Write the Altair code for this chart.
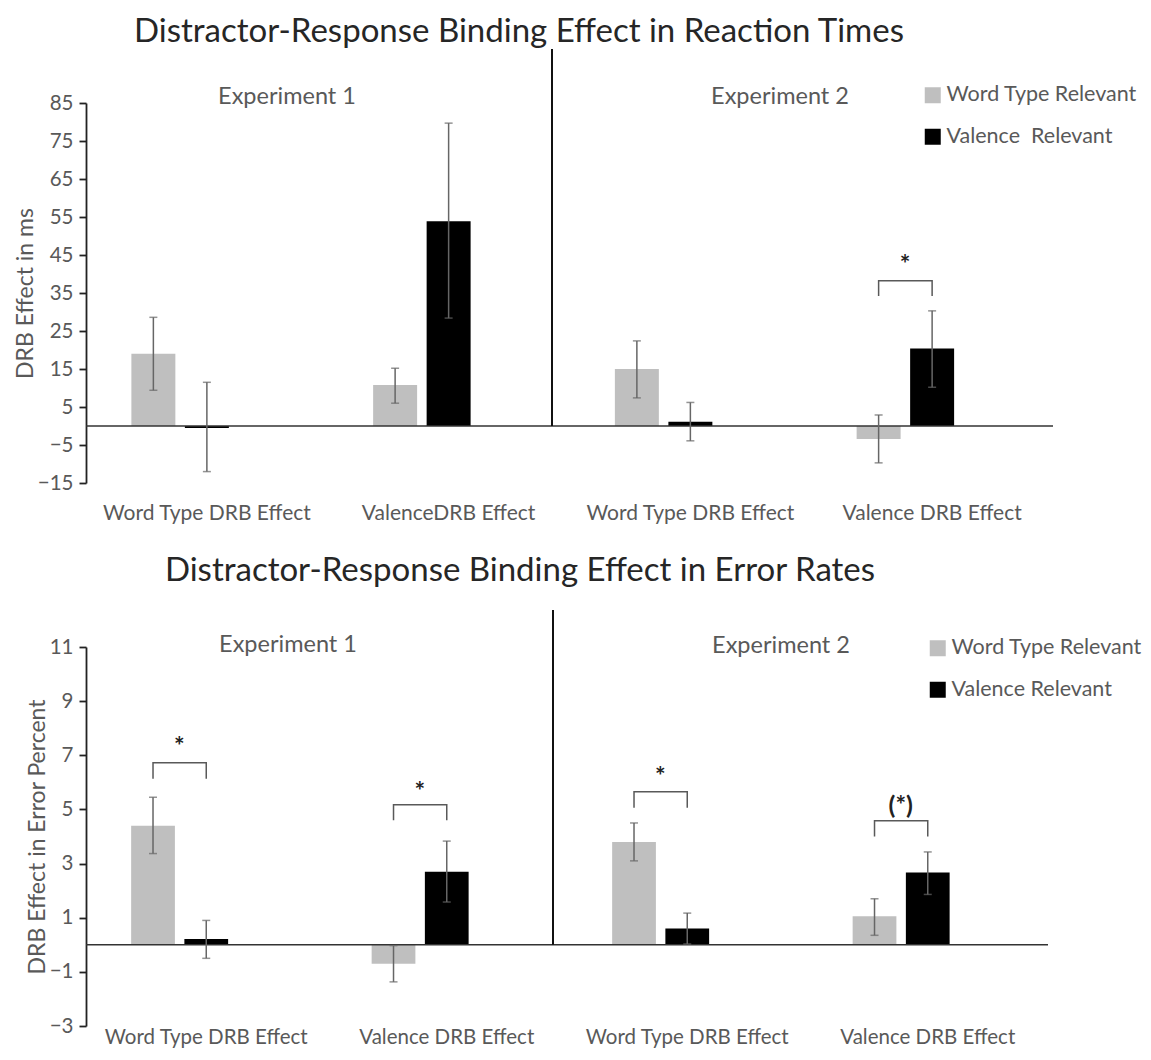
import altair as alt
import pandas as pd

FONT = "Lato"
TXT = "#595959"

series = ["Word Type Relevant", "Valence Relevant"]

# ---- Reaction times panel ----
rt_cats = ["E1|Word Type DRB Effect", "E1|ValenceDRB Effect",
           "E2|Word Type DRB Effect", "E2|Valence DRB Effect"]
rt_wt_mean = [19.0, 10.8, 15.0, -3.4]
rt_wt_lo = [9.4, 6.0, 7.4, -9.7]
rt_wt_hi = [28.6, 15.2, 22.4, 2.9]
rt_val_mean = [-0.5, 53.9, 1.1, 20.4]
rt_val_lo = [-12.0, 28.4, -3.9, 10.2]
rt_val_hi = [11.5, 79.7, 6.2, 30.3]
rt_sig_cat = ["E2|Valence DRB Effect"]
rt_sig_top = [38.2]
rt_sig_leg = [34.2]
rt_sig_label = ["*"]
rt_sig_label_y = [42.3]
rt_ticks = [-15, -5, 5, 15, 25, 35, 45, 55, 65, 75, 85]

# ---- Error rates panel ----
er_cats = ["E1|Word Type DRB Effect", "E1|Valence DRB Effect",
           "E2|Word Type DRB Effect", "E2|Valence DRB Effect"]
er_wt_mean = [4.4, -0.7, 3.8, 1.05]
er_wt_lo = [3.37, -1.37, 3.1, 0.35]
er_wt_hi = [5.45, -0.03, 4.5, 1.7]
er_val_mean = [0.21, 2.7, 0.6, 2.67]
er_val_lo = [-0.5, 1.58, 0.03, 1.86]
er_val_hi = [0.9, 3.83, 1.17, 3.43]
er_sig_cat = er_cats
er_sig_top = [6.72, 5.17, 5.65, 4.58]
er_sig_leg = [6.13, 4.6, 5.06, 4.0]
er_sig_label = ["*", "*", "*", "(*)"]
er_sig_label_y = [7.3, 5.65, 6.2, 5.13]
er_ticks = [-3, -1, 1, 3, 5, 7, 9, 11]


def panel(cats, wt_m, wt_lo, wt_hi, val_m, val_lo, val_hi,
          sig_cat, sig_top, sig_leg, sig_lab, sig_lab_y,
          ydom, yvals, ytitle, title, W, H, label_pad, label_size,
          legend_xy, title_xy, exp1_xy, exp2_xy, sep_x, sep_top, legend_expr):
    bars = pd.DataFrame({
        "cat": cats * 2,
        "series": [series[0]] * 4 + [series[1]] * 4,
        "value": wt_m + val_m,
        "lo": wt_lo + val_lo,
        "hi": wt_hi + val_hi,
    })
    rows = []
    for i, c in enumerate(sig_cat):
        rows += [
            {"cat": c, "series": series[0], "value": sig_leg[i], "o": 0, "id": i},
            {"cat": c, "series": series[0], "value": sig_top[i], "o": 1, "id": i},
            {"cat": c, "series": series[1], "value": sig_top[i], "o": 2, "id": i},
            {"cat": c, "series": series[1], "value": sig_leg[i], "o": 3, "id": i},
        ]
    brackets = pd.DataFrame(rows)
    stars = pd.DataFrame({"cat": sig_cat, "series": [series[1]] * len(sig_cat),
                          "value": sig_lab_y, "label": sig_lab})

    xaxis = alt.Axis(title=None, labelExpr="split(datum.value,'|')[1]", domain=False,
                     ticks=False, labelAngle=0, labelPadding=label_pad,
                     labelFontSize=label_size, labelColor=TXT, labelFont=FONT,
                     labelLimit=400, grid=False)
    yaxis = alt.Axis(values=yvals, title=ytitle, grid=False, domainColor="#222222",
                     domainWidth=1.8, tickColor="#222222", tickWidth=1.8, tickSize=7,
                     labelFontSize=20.5, labelColor=TXT, labelFont=FONT, labelPadding=6,
                     titleFontSize=23, titleFontWeight="normal", titleColor=TXT,
                     titleFont=FONT, titlePadding=0)
    xs = alt.Scale(domain=cats, paddingInner=0.336, paddingOuter=0.168)
    xos = alt.Scale(domain=series + ["(none)"], paddingInner=0.178, paddingOuter=0.089)
    ys = alt.Scale(domain=ydom, nice=False, zero=False)

    def X():
        return alt.X("cat:N", sort=cats, scale=xs, axis=xaxis)

    def XO():
        return alt.XOffset("series:N", scale=xos)

    def Y(f):
        return alt.Y(f + ":Q", scale=ys, axis=yaxis)

    color = alt.Color("series:N", scale=alt.Scale(domain=series, range=["#bfbfbf", "#000000"]),
                      legend=alt.Legend(title=None, orient="none", legendX=legend_xy[0],
                                        legendY=legend_xy[1], symbolType="square",
                                        symbolSize=256, labelFontSize=21.5, labelColor=TXT,
                                        labelFont=FONT, rowPadding=18.5, labelOffset=3,
                                        symbolStrokeWidth=0, padding=0, offset=0,
                                        labelLimit=400, labelExpr=legend_expr))

    base = alt.Chart(bars)
    bar = base.mark_bar().encode(x=X(), xOffset=XO(), y=Y("value"), color=color)
    zero = alt.Chart(pd.DataFrame({"value": [0]})).mark_rule(
        color="#333333", strokeWidth=1.6).encode(y=Y("value"))
    err = base.mark_rule(color="#666666", strokeWidth=1.5).encode(
        x=X(), xOffset=XO(), y=Y("lo"), y2="hi:Q")
    cap_lo = base.mark_tick(color="#666666", thickness=1.5, size=8).encode(
        x=X(), xOffset=XO(), y=Y("lo"))
    cap_hi = base.mark_tick(color="#666666", thickness=1.5, size=8).encode(
        x=X(), xOffset=XO(), y=Y("hi"))
    br = alt.Chart(brackets).mark_line(color="#595959", strokeWidth=1.5).encode(
        x=X(), xOffset=XO(), y=Y("value"), detail="id:N", order="o:Q")
    st = alt.Chart(stars).mark_text(fontSize=25, font=FONT, fontWeight="bold",
                                    color="#222222", dx=-27, baseline="middle").encode(
        x=X(), xOffset=XO(), y=Y("value"), text="label:N")
    sep = alt.Chart(pd.DataFrame({"value": [0]})).mark_rule(
        color="#111111", strokeWidth=2).encode(
        x=alt.value(sep_x), y=Y("value"), y2=alt.value(sep_top))
    ttl = alt.Chart(pd.DataFrame({"t": [title]})).mark_text(
        fontSize=33, font=FONT, color="#262626", baseline="middle").encode(
        x=alt.value(title_xy[0]), y=alt.value(title_xy[1]), text="t:N")
    e1 = alt.Chart(pd.DataFrame({"t": ["Experiment 1"]})).mark_text(
        fontSize=23.5, font=FONT, color=TXT, baseline="middle").encode(
        x=alt.value(exp1_xy[0]), y=alt.value(exp1_xy[1]), text="t:N")
    e2 = alt.Chart(pd.DataFrame({"t": ["Experiment 2"]})).mark_text(
        fontSize=23.5, font=FONT, color=TXT, baseline="middle").encode(
        x=alt.value(exp2_xy[0]), y=alt.value(exp2_xy[1]), text="t:N")

    return alt.layer(bar, zero, err, cap_lo, cap_hi, br, st, sep, ttl, e1, e2).properties(
        width=W, height=H)


top = panel(rt_cats, rt_wt_mean, rt_wt_lo, rt_wt_hi, rt_val_mean, rt_val_lo, rt_val_hi,
            rt_sig_cat, rt_sig_top, rt_sig_leg, rt_sig_label, rt_sig_label_y,
            [-15, 85], rt_ticks, "DRB Effect in ms",
            "Distractor-Response Binding Effect in Reaction Times", 967, 380, 19, 21,
            (836, -18.5), (433, -71), (201, -6), (694, -6), 466, -54,
            "datum.label == 'Valence Relevant' ? 'Valence\u00a0 Relevant' : datum.label")

bottom = panel(er_cats, er_wt_mean, er_wt_lo, er_wt_hi, er_val_mean, er_val_lo, er_val_hi,
               er_sig_cat, er_sig_top, er_sig_leg, er_sig_label, er_sig_label_y,
               [-3, 11], er_ticks, "DRB Effect in Error Percent",
               "Distractor-Response Binding Effect in Error Rates", 962, 379, 1, 20.5,
               (841, -9.5), (434, -76), (202, -2), (695, -1), 467, -37,
               "datum.label")

chart = alt.vconcat(top, bottom, spacing=32).resolve_scale(
    color="independent", x="independent", y="independent", xOffset="independent"
).properties(
    padding={"left": 6, "top": 8, "right": 0, "bottom": 0},
    background="white"
).configure_view(stroke="transparent", strokeWidth=0)

chart.save("out.html", embed_options={"renderer": "svg", "actions": False})
